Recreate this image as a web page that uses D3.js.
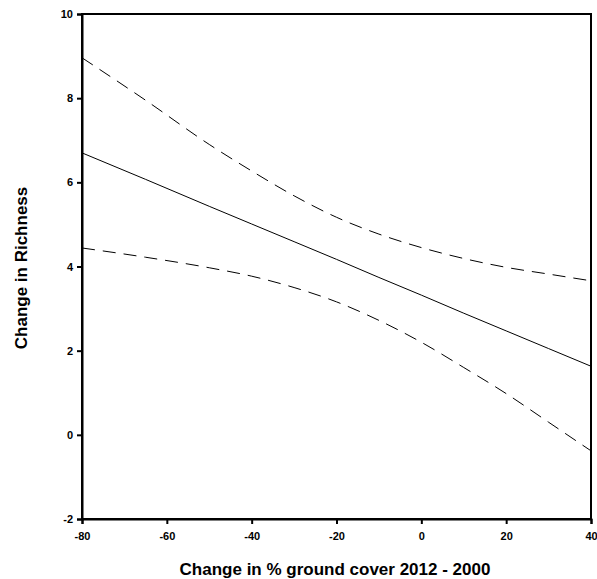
<!DOCTYPE html>
<html>
<head>
<meta charset="utf-8">
<script src="https://cdn.jsdelivr.net/npm/d3@7"></script>
<style>
  body { margin: 0; background: #fff; }
  text { font-family: "Liberation Sans", Arial, sans-serif; font-weight: bold; fill: #000; }
</style>
</head>
<body>
<svg width="597" height="579"></svg>
<script>
// values
const xVals = [-80, -65, -50, -40, -30, -20, -10, 0, 10, 20, 30, 40];
const fitVals = [6.70, 6.07, 5.43, 5.01, 4.59, 4.17, 3.74, 3.32, 2.89, 2.47, 2.05, 1.63];
const upperVals = [8.96, 7.95, 6.90, 6.27, 5.68, 5.17, 4.77, 4.45, 4.19, 3.98, 3.82, 3.66];
const lowerVals = [4.44, 4.22, 3.97, 3.77, 3.50, 3.16, 2.72, 2.20, 1.60, 0.98, 0.30, -0.38];
const xTicks = [-80, -60, -40, -20, 0, 20, 40];
const yTicks = [-2, 0, 2, 4, 6, 8, 10];

const mLeft = 82, mRight = 591, mTop = 14, mBottom = 519;

const svg = d3.select("svg");

const x = d3.scaleLinear().domain([-80, 40]).range([mLeft, mRight]);
const y = d3.scaleLinear().domain([-2, 10]).range([mBottom, mTop]);

// frame
svg.append("rect")
  .attr("x", mLeft).attr("y", mTop)
  .attr("width", mRight - mLeft).attr("height", mBottom - mTop)
  .attr("fill", "none").attr("stroke", "#000").attr("stroke-width", 2);

const xAxis = svg.append("g")
  .attr("transform", `translate(0,${mBottom})`)
  .call(d3.axisBottom(x).tickValues(xTicks).tickSize(5).tickPadding(8).tickFormat(d3.format("d")));

const yAxis = svg.append("g")
  .attr("transform", `translate(${mLeft},0)`)
  .call(d3.axisLeft(y).tickValues(yTicks).tickSize(5).tickPadding(4).tickFormat(d3.format("d")));

[xAxis, yAxis].forEach(g => {
  g.select(".domain").attr("stroke-width", 2);
  g.selectAll(".tick line").attr("stroke-width", 2);
  g.selectAll(".tick text")
    .attr("font-size", 11)
    .attr("font-family", "Liberation Sans, Arial, sans-serif")
    .attr("font-weight", "bold")
    .text(d => String(d).replace("\u2212", "-"));
});

const pts = (vals) => xVals.map((v, i) => [v, vals[i]]);
const line = d3.line().x(d => x(d[0])).y(d => y(d[1])).curve(d3.curveMonotoneX);

svg.append("path")
  .attr("d", line(pts(fitVals)))
  .attr("fill", "none").attr("stroke", "#000").attr("stroke-width", 1);

[upperVals, lowerVals].forEach(vals => {
  svg.append("path")
    .attr("d", line(pts(vals)))
    .attr("fill", "none").attr("stroke", "#000").attr("stroke-width", 1)
    .attr("stroke-dasharray", "13,8");
});

svg.append("text")
  .attr("x", 335).attr("y", 575)
  .attr("text-anchor", "middle").attr("font-size", 17)
  .text("Change in % ground cover 2012 - 2000");

svg.append("text")
  .attr("transform", `translate(27,268) rotate(-90)`)
  .attr("text-anchor", "middle").attr("font-size", 17)
  .text("Change in Richness");
</script>
</body>
</html>
